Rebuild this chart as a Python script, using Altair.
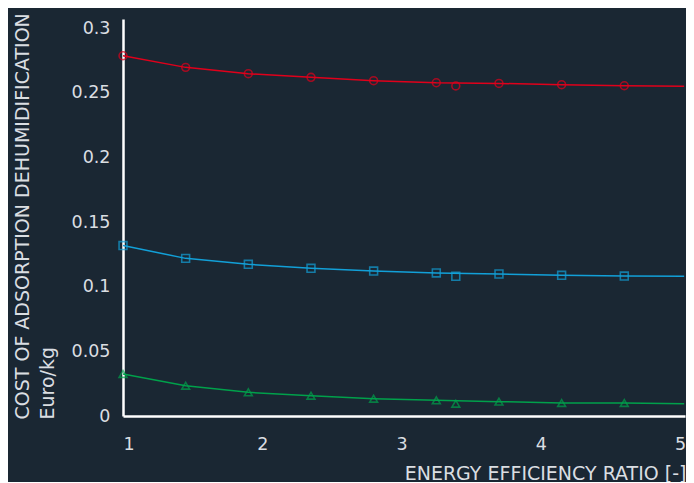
import altair as alt
import pandas as pd

# Line vertices (energy efficiency ratio)
x_line = [1.0, 1.45, 1.9, 2.35, 2.8, 3.25, 3.7, 4.15, 4.6, 5.03]
red_line = [0.2786, 0.2696, 0.2647, 0.2619, 0.2593, 0.2577, 0.2572, 0.2562, 0.2554, 0.2549]
blue_line = [0.1318, 0.1219, 0.1173, 0.1142, 0.1121, 0.1106, 0.1098, 0.1088, 0.1082, 0.1080]
green_line = [0.0325, 0.0234, 0.0183, 0.0157, 0.0134, 0.0121, 0.0111, 0.0101, 0.0101, 0.0095]

# Marker positions (the line vertices except the last, plus one extra point)
x_mark = [1.0, 1.45, 1.9, 2.35, 2.8, 3.25, 3.39, 3.7, 4.15, 4.6]
red_mark = [0.2786, 0.2696, 0.2647, 0.2619, 0.2593, 0.2577, 0.2552, 0.2572, 0.2562, 0.2554]
blue_mark = [0.1318, 0.1219, 0.1173, 0.1142, 0.1121, 0.1106, 0.1080, 0.1098, 0.1088, 0.1082]
green_mark = [0.0325, 0.0234, 0.0183, 0.0157, 0.0134, 0.0121, 0.0095, 0.0111, 0.0101, 0.0101]

series = ["red", "blue", "green"]
colors = ["#e0001b", "#12a0d8", "#00a14b"]
shapes = ["circle", "square", "triangle-up"]

BG = "#1a2733"
TXT = "#dadee2"
FONT = "DejaVu Sans"

lines = pd.concat([
    pd.DataFrame({"x": x_line, "y": v, "s": s})
    for s, v in zip(series, [red_line, blue_line, green_line])
])
marks = pd.concat([
    pd.DataFrame({"x": x_mark, "y": v, "s": s})
    for s, v in zip(series, [red_mark, blue_mark, green_mark])
])

xs = alt.Scale(domain=[1, 5.036], nice=False, zero=False)
ys = alt.Scale(domain=[0, 0.307], nice=False)
col = alt.Color("s:N", scale=alt.Scale(domain=series, range=colors), legend=None)

xaxis = alt.Axis(
    values=[1, 2, 3, 4, 5], format="d", title="ENERGY EFFICIENCY RATIO [-]",
    titleAnchor="end", titleAlign="right", titleBaseline="alphabetic",
    titleX=563, titleY=63,
    grid=False, ticks=False,
    domainColor="#ffffff", domainWidth=2.5, labelPadding=19,
    labelFontSize=17.5, titleFontSize=19, labelColor=TXT, titleColor=TXT,
    labelFont=FONT, titleFont=FONT, labelFontWeight="normal", titleFontWeight="normal",
)
yaxis = alt.Axis(
    values=[0, 0.05, 0.1, 0.15, 0.2, 0.25, 0.3], labelExpr="format(datum.value, '')",
    title=["COST OF ADSORPTION DEHUMIDIFICATION", "Euro/kg"],
    titleAnchor="start", titleAlign="left", titleBaseline="alphabetic",
    titleX=-95, titleY=400, grid=False, ticks=False,
    domainColor="#ffffff", domainWidth=2.5, labelPadding=13,
    labelFontSize=17.5, titleFontSize=19, labelColor=TXT, titleColor=TXT,
    labelFont=FONT, titleFont=FONT, labelFontWeight="normal", titleFontWeight="normal",
    titleLineHeight=25,
)

line = alt.Chart(lines).mark_line(strokeWidth=1.5).encode(
    x=alt.X("x:Q", scale=xs, axis=xaxis),
    y=alt.Y("y:Q", scale=ys, axis=yaxis),
    color=col, detail="s:N",
)
pts = alt.Chart(marks).mark_point(filled=False, strokeWidth=1.6, size=62).encode(
    x=alt.X("x:Q", scale=xs),
    y=alt.Y("y:Q", scale=ys),
    color=col,
    shape=alt.Shape("s:N", scale=alt.Scale(domain=series, range=shapes), legend=None),
)

chart = (line + pts).properties(
    width=562, height=397,
    background=BG,
    padding={"left": 115, "top": 11, "right": 1, "bottom": 66},
    autosize=alt.AutoSizeParams(type="none"),
).configure_view(stroke=None)

chart.save("out.html", embed_options={"renderer": "svg", "actions": False})
